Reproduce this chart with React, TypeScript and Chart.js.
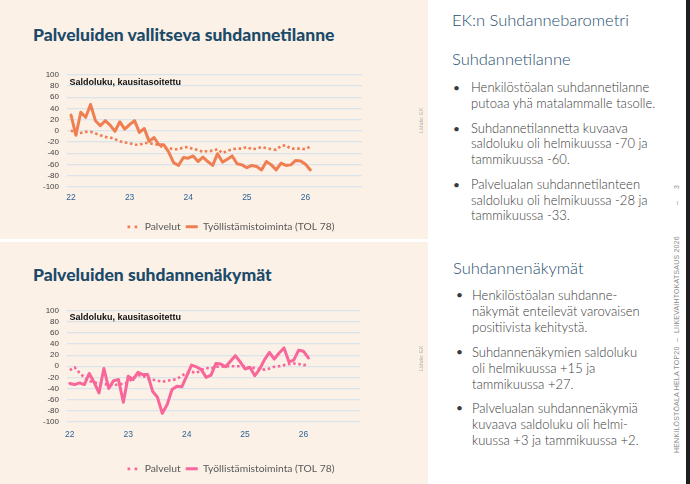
import React, { useEffect, useRef } from 'react';
import { Chart, registerables } from 'chart.js';

Chart.register(...registerables);

// ---------- DATA ----------
// Monthly observations Jan 2022 .. Feb 2026 (50 months)
const MONTHS: string[] = [
  '2022-01','2022-02','2022-03','2022-04','2022-05','2022-06','2022-07','2022-08','2022-09','2022-10','2022-11','2022-12',
  '2023-01','2023-02','2023-03','2023-04','2023-05','2023-06','2023-07','2023-08','2023-09','2023-10','2023-11','2023-12',
  '2024-01','2024-02','2024-03','2024-04','2024-05','2024-06','2024-07','2024-08','2024-09','2024-10','2024-11','2024-12',
  '2025-01','2025-02','2025-03','2025-04','2025-05','2025-06','2025-07','2025-08','2025-09','2025-10','2025-11','2025-12',
  '2026-01','2026-02',
];
const YEAR_TICK_LABELS = ['22', '23', '24', '25', '26'];
const YEAR_TICK_MONTHS = ['2022-01', '2023-01', '2024-01', '2025-01', '2026-01'];

// Palveluiden vallitseva suhdannetilanne
const TILANNE_PALVELUT = [
  1, -6, -4, -2, -2, -5, -8, -11, -12, -15,
  -19, -21, -22, -25, -25, -22, -22, -24, -25, -31,
  -31, -33, -33, -30, -29, -33, -34, -38, -36, -36,
  -33, -40, -36, -33, -32, -32, -29, -33, -32, -29,
  -31, -33, -34, -27, -26, -32, -32, -32, -33, -28,
];
const TILANNE_TOL78 = [
  28, -8, 33, 24, 47, 18, 9, 18, 10, -1,
  16, 3, 11, 18, -3, 4, -19, -12, -25, -25,
  -38, -57, -62, -48, -49, -45, -55, -47, -55, -62,
  -41, -56, -51, -45, -59, -61, -66, -62, -64, -70,
  -55, -61, -70, -58, -62, -61, -53, -54, -60, -70,
];

// Palveluiden suhdannenäkymät
const NAKYMAT_PALVELUT = [
  -7, -2, -12, -20, -27, -29, -31, -32, -33, -35,
  -32, -32, -29, -21, -16, -17, -22, -24, -26, -28,
  -26, -25, -23, -17, -12, -10, -12, -7, -3, -4,
  -1, -1, 0, 0, 0, 0, 0, -3, -3, -5,
  -6, -4, -1, 0, 2, 4, 5, 4, 2, 3,
];
const NAKYMAT_TOL78 = [
  -31, -33, -30, -33, -13, -29, -48, -4, -40, -26,
  -24, -65, -18, -24, -11, -15, -15, -45, -56, -85,
  -69, -42, -36, -37, -18, 2, -1, -6, -20, -16,
  5, 4, -1, 9, 19, 8, -5, -2, -17, -5,
  12, 25, 13, 24, 33, 8, 11, 29, 27, 15,
];

const SERIES_LABELS = ['Palvelut', 'Työllistämistoiminta (TOL 78)'];
const SUBTITLE = 'Saldoluku, kausitasoitettu';

// ---------- STYLE ----------
const LEFT_BG = '#FBF1E7';
const TITLE_COLOR = '#1C4A69';
const HEAD_COLOR = '#1F4E6E';
const BODY_COLOR = '#3A3A3A';
const ORANGE = '#EF7F52';
const PINK = '#F8669A';

type ChartProps = {
  left: number; top: number; width: number; height: number;
  palvelut: number[]; tol: number[]; color: string;
  padTop: number; xAxisH: number; xPad: number; leftW: number; rightW: number;
  xMin: number; xMax: number; subDy: number;
};

function TrendChart(p: ChartProps) {
  const ref = useRef<HTMLCanvasElement>(null);
  useEffect(() => {
    const tickIdx = YEAR_TICK_MONTHS.map((m) => MONTHS.indexOf(m));
    const subtitlePlugin = {
      id: 'saldoSubtitle',
      afterDraw(chart: any) {
        const { ctx, chartArea } = chart;
        ctx.save();
        ctx.font = 'bold 9px "Liberation Sans Narrow", "Liberation Sans", sans-serif';
        ctx.fillStyle = '#111';
        ctx.textBaseline = 'middle';
        ctx.textAlign = 'left';
        ctx.fillText(SUBTITLE, chartArea.left + 2.5, chartArea.top + p.subDy);
        ctx.restore();
      },
    };
    const chart = new Chart(ref.current as HTMLCanvasElement, {
      type: 'line',
      data: {
        datasets: [
          {
            label: SERIES_LABELS[0],
            data: p.palvelut.map((v, i) => ({ x: i, y: v })),
            borderColor: p.color,
            backgroundColor: p.color,
            borderWidth: 2.6,
            borderDash: [2.6, 2.6],
            borderCapStyle: 'butt',
            pointRadius: 0,
            tension: 0,
            fill: false,
          },
          {
            label: SERIES_LABELS[1],
            data: p.tol.map((v, i) => ({ x: i, y: v })),
            borderColor: p.color,
            backgroundColor: p.color,
            borderWidth: 3,
            borderJoinStyle: 'round',
            borderCapStyle: 'round',
            pointRadius: 0,
            tension: 0,
            fill: false,
          },
        ],
      },
      options: {
        animation: false,
        responsive: false,
        maintainAspectRatio: false,
        layout: { padding: { top: p.padTop, left: 0, right: 0, bottom: 0 } },
        scales: {
          x: {
            type: 'linear',
            min: p.xMin,
            max: p.xMax,
            afterBuildTicks: (s: any) => {
              s.ticks = tickIdx.map((v) => ({ value: v }));
            },
            afterFit: (s: any) => {
              s.height = p.xAxisH;
            },
            ticks: {
              autoSkip: false,
              maxRotation: 0,
              padding: p.xPad,
              color: '#2F6496',
              font: { family: '"Liberation Sans", sans-serif', size: 8.5 },
              callback: (v: any) => {
                const k = tickIdx.indexOf(Number(v));
                return k >= 0 ? YEAR_TICK_LABELS[k] : '';
              },
            },
            grid: { display: false, drawTicks: false },
            border: { display: false },
          },
          y: {
            min: -100,
            max: 100,
            afterFit: (s: any) => {
              s.width = p.leftW;
            },
            ticks: {
              stepSize: 20,
              autoSkip: false,
              padding: 8,
              color: '#3F3F3F',
              font: { family: '"Liberation Sans", sans-serif', size: 8 },
            },
            grid: { color: '#DCE4EB', lineWidth: 1.2, drawTicks: false },
            border: { display: false },
          },
          y2: {
            position: 'right',
            display: true,
            afterFit: (s: any) => {
              s.width = p.rightW;
            },
            ticks: { display: false },
            grid: { display: false, drawTicks: false },
            border: { display: false },
          },
        },
        plugins: {
          tooltip: { enabled: false },
          legend: {
            position: 'bottom',
            labels: {
              usePointStyle: true,
              pointStyleWidth: 12,
              padding: 5,
              color: '#595959',
              font: { family: 'Lato, sans-serif', size: 10.3 },
              generateLabels: (c: any) =>
                c.data.datasets.map((ds: any, i: number) => ({
                  text: ds.label,
                  fillStyle: ds.borderColor,
                  strokeStyle: ds.borderColor,
                  fontColor: '#595959',
                  lineWidth: i === 0 ? 2.6 : 3,
                  lineDash: i === 0 ? [2.6, 4.5] : [],
                  lineCap: 'butt',
                  pointStyle: 'line',
                  datasetIndex: i,
                  hidden: false,
                })),
            },
          },
        },
      } as any,
      plugins: [subtitlePlugin],
    });
    return () => chart.destroy();
  }, []);
  return (
    <canvas
      ref={ref}
      width={p.width}
      height={p.height}
      style={{ position: 'absolute', left: p.left, top: p.top, width: p.width, height: p.height }}
    />
  );
}

function Bullet({ top, lines, lh, size, bx, tx }: { top: number; lines: string[]; lh: number; size: number; bx: number; tx: number }) {
  return (
    <>
      <div style={{ position: 'absolute', left: bx, top, fontSize: size - 1, lineHeight: lh + 'px', color: BODY_COLOR, fontFamily: 'Lato, sans-serif' }}>•</div>
      <div style={{ position: 'absolute', left: tx, top, fontSize: size, lineHeight: lh + 'px', color: BODY_COLOR, fontFamily: 'Lato, sans-serif', fontWeight: 300, whiteSpace: 'nowrap' }}>
        {lines.map((l, i) => (
          <div key={i}>{l}</div>
        ))}
      </div>
    </>
  );
}

function Rotated({ cx, cy, w, h, children }: { cx: number; cy: number; w: number; h: number; children: React.ReactNode }) {
  return (
    <div
      style={{
        position: 'absolute', left: cx - w / 2, top: cy - h / 2, width: w, height: h,
        transform: 'rotate(-90deg)', transformOrigin: '50% 50%',
      }}
    >
      {children}
    </div>
  );
}

export default function App() {
  const footStyle: React.CSSProperties = {
    position: 'absolute', top: 0, lineHeight: '10px', fontSize: 7, color: '#8C8C8C',
    fontFamily: '"Liberation Sans", sans-serif', whiteSpace: 'nowrap', letterSpacing: 0.2,
  };
  return (
    <div style={{ position: 'fixed', left: 0, top: 0, width: 690, height: 484, overflow: 'hidden', background: '#fff' }}>
      {/* left panels */}
      <div style={{ position: 'absolute', left: 0, top: 0, width: 428, height: 484, background: LEFT_BG }} />
      <div style={{ position: 'absolute', left: 0, top: 239, width: 428, height: 3, background: '#fff' }} />
      {/* right dark edge */}
      <div style={{ position: 'absolute', left: 686, top: 0, width: 4, height: 484, background: '#1E1E1E' }} />

      {/* titles */}
      <div style={{ position: 'absolute', left: 33, top: 26, fontFamily: 'Lato, sans-serif', fontWeight: 900, fontSize: 17.5, lineHeight: '18px', color: TITLE_COLOR, whiteSpace: 'nowrap' }}>
        Palveluiden vallitseva suhdannetilanne
      </div>
      <div style={{ position: 'absolute', left: 33, top: 266, fontFamily: 'Lato, sans-serif', fontWeight: 900, fontSize: 17.5, lineHeight: '18px', color: TITLE_COLOR, whiteSpace: 'nowrap' }}>
        Palveluiden suhdannenäkymät
      </div>

      <TrendChart
        left={30} top={62} width={402} height={180}
        palvelut={TILANNE_PALVELUT} tol={TILANNE_TOL78} color={ORANGE}
        padTop={8} xAxisH={30} xPad={6} leftW={37} rightW={70}
        xMin={-0.82} xMax={59.57} subDy={7.7}
      />
      <TrendChart
        left={30} top={298} width={402} height={186}
        palvelut={NAKYMAT_PALVELUT} tol={NAKYMAT_TOL78} color={PINK}
        padTop={7.5} xAxisH={37} xPad={8} leftW={37} rightW={72}
        xMin={-0.57} xMax={59.6} subDy={7}
      />

      {/* source notes */}
      <Rotated cx={421} cy={120} w={40} h={7}>
        <div style={{ fontSize: 5.5, lineHeight: '7px', color: '#B3B3B3', fontFamily: '"Liberation Sans", sans-serif', textAlign: 'center' }}>Lähde: EK</div>
      </Rotated>
      <Rotated cx={421} cy={358} w={40} h={7}>
        <div style={{ fontSize: 5.5, lineHeight: '7px', color: '#B3B3B3', fontFamily: '"Liberation Sans", sans-serif', textAlign: 'center' }}>Lähde: EK</div>
      </Rotated>

      {/* right panel */}
      <div style={{ position: 'absolute', left: 452, top: 12, fontFamily: 'Lato, sans-serif', fontWeight: 300, fontSize: 16.5, lineHeight: '16.5px', color: HEAD_COLOR, whiteSpace: 'nowrap' }}>
        EK:n Suhdannebarometri
      </div>
      <div style={{ position: 'absolute', left: 452, top: 51, fontFamily: 'Lato, sans-serif', fontWeight: 300, fontSize: 16.5, lineHeight: '16.5px', color: HEAD_COLOR, whiteSpace: 'nowrap' }}>
        Suhdannetilanne
      </div>
      <Bullet top={80} lh={15.5} size={13} bx={453} tx={471} lines={['Henkilöstöalan suhdannetilanne', 'putoaa yhä matalammalle tasolle.']} />
      <Bullet top={120.5} lh={15.5} size={13} bx={453} tx={471} lines={['Suhdannetilannetta kuvaava', 'saldoluku oli helmikuussa -70 ja', 'tammikuussa -60.']} />
      <Bullet top={177} lh={15.5} size={13} bx={453} tx={471} lines={['Palvelualan suhdannetilanteen', 'saldoluku oli helmikuussa -28 ja', 'tammikuussa -33.']} />

      <div style={{ position: 'absolute', left: 453, top: 259.5, fontFamily: 'Lato, sans-serif', fontWeight: 300, fontSize: 16.5, lineHeight: '16.5px', color: HEAD_COLOR, whiteSpace: 'nowrap' }}>
        Suhdannenäkymät
      </div>
      <Bullet top={287} lh={16.2} size={13} bx={456} tx={472} lines={['Henkilöstöalan suhdanne-', 'näkymät enteilevät varovaisen', 'positiivista kehitystä.']} />
      <Bullet top={343.5} lh={16.2} size={13} bx={456} tx={472} lines={['Suhdannenäkymien saldoluku', 'oli helmikuussa +15 ja', 'tammikuussa +27.']} />
      <Bullet top={400} lh={16.2} size={13} bx={456} tx={472} lines={['Palvelualan suhdannenäkymiä', 'kuvaava saldoluku oli helmi-', 'kuussa +3 ja tammikuussa +2.']} />

      {/* vertical footer */}
      <Rotated cx={676.7} cy={325} w={290} h={10}>
        <div style={{ position: 'relative', width: 290, height: 10 }}>
          <span style={{ ...footStyle, left: 17 }}>HENKILÖSTÖALA HELA TOP20</span>
          <span style={{ ...footStyle, left: 128 }}>–</span>
          <span style={{ ...footStyle, left: 137 }}>LIIKEVAIHTOKATSAUS 2026</span>
          <span style={{ ...footStyle, left: 265 }}>–</span>
          <span style={{ ...footStyle, left: 281 }}>3</span>
        </div>
      </Rotated>
    </div>
  );
}
